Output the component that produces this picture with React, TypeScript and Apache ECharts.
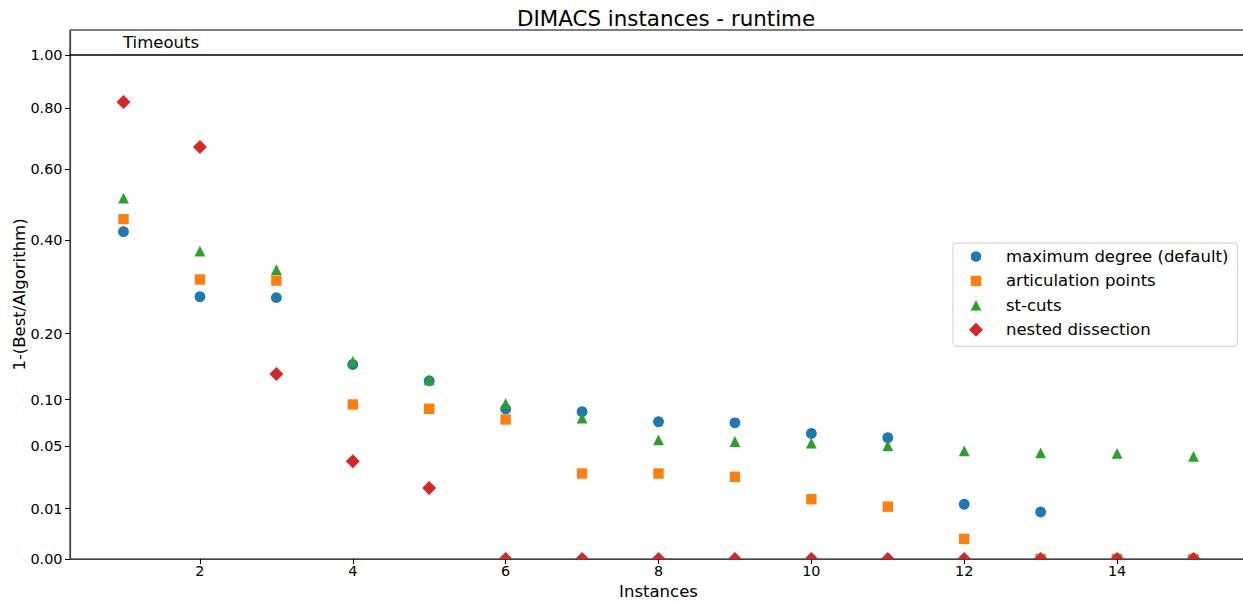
import React, { useEffect, useRef } from 'react';
import * as echarts from 'echarts';

const instances = [1, 2, 3, 4, 5, 6, 7, 8, 9, 10, 11, 12, 13, 14, 15];
const maxDegree = [0.422, 0.271, 0.269, 0.149, 0.125, 0.0886, 0.0854, 0.0742, 0.0731, 0.0621, 0.0579, 0.0118, 0.0087, 0, 0];
const articulationPoints = [0.455, 0.3077, 0.3055, 0.0941, 0.0889, 0.0767, 0.0288, 0.0288, 0.0266, 0.0141, 0.0108, 0.0016, 0, 0, 0];
const stCuts = [0.513, 0.3732, 0.33, 0.1539, 0.1266, 0.0952, 0.0782, 0.056, 0.0544, 0.0529, 0.0507, 0.0461, 0.0444, 0.044, 0.0415];
const nestedDissection = [0.823, 0.6686, 0.1348, 0.0377, 0.0198, 0, 0, 0, 0, 0, 0, 0, 0, 0, 0];

const seriesNames = ['maximum degree (default)', 'articulation points', 'st-cuts', 'nested dissection'];
const seriesColors = ['#1f77b4', '#ff7f0e', '#2ca02c', '#d62728'];
const seriesMarkers = ['circle', 'square', 'triangle', 'diamond'];

const yTickValues = [0, 0.01, 0.05, 0.1, 0.2, 0.4, 0.6, 0.8, 1.0];
const xTickValues = [2, 4, 6, 8, 10, 12, 14];
const timeoutValue = 1.0;

const FONT = 'DejaVu Sans';

const legendIcons: Record<string, string> = {
  circle: 'path://M0,0M14,14M7,1.7A5.3,5.3,0,1,1,7,12.3A5.3,5.3,0,1,1,7,1.7Z',
  square: 'path://M0,0M14,14M1.8,1.8L12.2,1.8L12.2,12.2L1.8,12.2Z',
  triangle: 'path://M0,0M14,14M7,1.7L12.3,12.3L1.7,12.3Z',
  diamond: 'path://M7,0L14,7L7,14L0,7Z',
};

function makeRender(marker: string, color: string) {
  return (_params: any, api: any) => {
    const p = api.coord([api.value(0), api.value(1)]);
    const style = { fill: color };
    if (marker === 'circle') {
      return { type: 'circle', shape: { cx: p[0], cy: p[1], r: 5.4 }, style };
    }
    if (marker === 'square') {
      return { type: 'rect', shape: { x: p[0] - 5.2, y: p[1] - 5.2, width: 10.4, height: 10.4 }, style };
    }
    if (marker === 'triangle') {
      return {
        type: 'polygon',
        shape: { points: [[p[0], p[1] - 5.4], [p[0] + 5.4, p[1] + 5.4], [p[0] - 5.4, p[1] + 5.4]] },
        style,
      };
    }
    return {
      type: 'polygon',
      shape: { points: [[p[0], p[1] - 7], [p[0] + 7, p[1]], [p[0], p[1] + 7], [p[0] - 7, p[1]]] },
      style,
    };
  };
}

export default function App() {
  const ref = useRef<HTMLDivElement>(null);

  useEffect(() => {
    if (!ref.current) return;
    const chart = echarts.init(ref.current, null, { renderer: 'svg' });
    const allValues = [maxDegree, articulationPoints, stCuts, nestedDissection];

    const customSeries = allValues.map((vals, i) => ({
      type: 'custom',
      name: seriesNames[i],
      clip: true,
      z: 3 + i,
      itemStyle: { color: seriesColors[i] },
      data: instances.map((x, j) => [x, Math.sqrt(vals[j])]),
      renderItem: makeRender(seriesMarkers[i], seriesColors[i]),
    }));

    const option: any = {
      animation: false,
      backgroundColor: '#ffffff',
      textStyle: { fontFamily: FONT },
      title: {
        text: 'DIMACS instances - runtime',
        left: 517,
        top: 8,
        padding: 0,
        textStyle: { fontFamily: FONT, fontSize: 21.4, fontWeight: 'normal', color: '#000' },
      },
      grid: {
        left: 70,
        top: 30,
        right: -4,
        bottom: 44,
        outerBoundsMode: 'none',
        containLabel: false,
        show: true,
        borderColor: '#000',
        borderWidth: 1,
        backgroundColor: 'transparent',
      },
      legend: {
        orient: 'vertical',
        left: 953,
        top: 243,
        padding: [5, 9, 8, 16],
        itemWidth: 14,
        itemHeight: 14,
        itemGap: 7.4,
        backgroundColor: '#fff',
        borderColor: '#cccccc',
        borderWidth: 1,
        borderRadius: 3,
        textStyle: {
          fontFamily: FONT,
          fontSize: 16.5,
          color: '#000',
          lineHeight: 17,
          padding: [0, 0, 0, 18],
        },
        data: seriesNames.map((n, i) => ({
          name: n,
          icon: legendIcons[seriesMarkers[i]],
          itemStyle: { color: seriesColors[i] },
        })),
      },
      xAxis: {
        type: 'value',
        min: 0.3,
        max: 15.7,
        name: 'Instances',
        nameLocation: 'middle',
        nameGap: 23.5,
        nameMoveOverlap: false,
        nameTextStyle: { fontFamily: FONT, fontSize: 16.5, color: '#000' },
        axisLine: { show: true, onZero: false, lineStyle: { color: '#444', width: 1.2 } },
        axisTick: { show: true, length: 5, customValues: xTickValues, lineStyle: { color: '#000' } },
        axisLabel: {
          customValues: xTickValues,
          margin: 5,
          fontFamily: FONT,
          fontSize: 14.4,
          color: '#000',
        },
        splitLine: { show: false },
      },
      yAxis: {
        type: 'value',
        min: 0,
        max: 1.05,
        name: '1-(Best/Algorithm)',
        nameLocation: 'middle',
        nameGap: 42,
        nameMoveOverlap: false,
        nameTextStyle: { fontFamily: FONT, fontSize: 16.5, color: '#000' },
        axisLine: { show: true, onZero: false, lineStyle: { color: '#444', width: 1.2 } },
        axisTick: { show: true, length: 5, customValues: yTickValues.map(Math.sqrt), lineStyle: { color: '#000' } },
        axisLabel: {
          customValues: yTickValues.map(Math.sqrt),
          formatter: (v: number) => (v * v).toFixed(2),
          margin: 7.5,
          fontFamily: FONT,
          fontSize: 14.4,
          color: '#000',
        },
        splitLine: { show: false },
      },
      series: [
        {
          type: 'scatter',
          name: 'Timeouts',
          silent: true,
          symbolSize: 1,
          itemStyle: { color: 'rgba(0,0,0,0)' },
          data: [[1, Math.sqrt(timeoutValue)]],
          label: {
            show: true,
            formatter: 'Timeouts',
            position: [0, -4],
            align: 'left',
            verticalAlign: 'bottom',
            fontFamily: FONT,
            fontSize: 16.5,
            color: '#000',
            opacity: 1,
            textBorderWidth: 0,
          },
          markLine: {
            silent: true,
            symbol: 'none',
            label: { show: false },
            lineStyle: { color: '#000', width: 1.5, type: 'solid' },
            data: [{ yAxis: Math.sqrt(timeoutValue) }],
          },
        },
        ...customSeries,
      ],
    };

    chart.setOption(option);
    return () => chart.dispose();
  }, []);

  return (
    <div
      ref={ref}
      style={{ position: 'absolute', left: 0, top: 0, width: 1243, height: 603, background: '#fff' }}
    />
  );
}
